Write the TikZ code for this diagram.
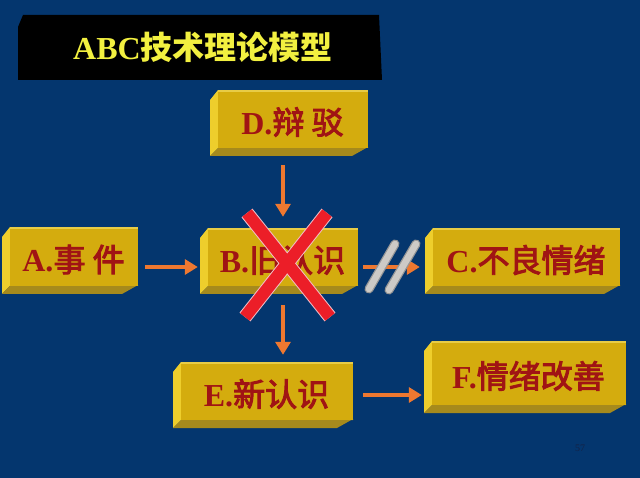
\documentclass[tikz,border=0pt]{standalone}
\usepackage{fontspec}
\setmainfont{Liberation Serif}
\newfontfamily\cjk{Noto Sans CJK SC}
\newfontfamily\cjkm[FakeBold=3]{Noto Sans CJK SC}
\usetikzlibrary{calc,arrows.meta}
\definecolor{bgblue}{RGB}{4,54,110}
\definecolor{facec}{RGB}{212,172,14}
\definecolor{leftc}{RGB}{238,206,44}
\definecolor{botc}{RGB}{166,138,28}
\definecolor{topc}{RGB}{232,204,70}
\definecolor{textred}{RGB}{160,20,20}
\definecolor{arrorange}{RGB}{238,120,48}
\definecolor{xred}{RGB}{236,30,40}
\definecolor{xhalo}{RGB}{240,190,200}
\definecolor{baredge}{RGB}{150,150,150}
\definecolor{barfill}{RGB}{205,202,198}
\definecolor{titleyellow}{RGB}{242,240,64}
\definecolor{pagec}{RGB}{20,34,70}
\tikzset{
  arr/.style={draw=arrorange, line width=4pt, -{Triangle[length=13pt,width=15pt]}},
  blocknode/.style={inner sep=0pt, draw=none, rectangle},
  blocktext/.style={font=\fontsize{32}{36}\selectfont\bfseries, text=textred, inner sep=0pt},
  xstroke/.style={line width=12pt, draw=xred},
  xhalostroke/.style={line width=14pt, draw=xhalo},
  baroutline/.style={line cap=round, line width=9pt, draw=baredge},
  barinner/.style={line cap=round, line width=6.5pt, draw=barfill},
}
\newcommand{\blk}[6]{%
  \fill[leftc] ({#2+8},#3) -- (#2,{#3+10}) -- (#2,#5) -- ({#2+8},{#5-8}) -- cycle;
  \fill[botc] (#2,#5) -- ({#4-16},#5) -- (#4,{#5-9}) -- (#4,{#5-8}) -- ({#2+8},{#5-8}) -- cycle;
  \fill[facec] ({#2+8},#3) rectangle (#4,{#5-8});
  \draw[topc, line width=2pt] ({#2+8},{#3+1}) -- (#4,{#3+1});
  \node[blocknode, minimum width={(#4-#2)*1pt}, minimum height={(#5-#3)*1pt}] (#1) at ({(#2+#4)/2},{(#3+#5)/2}) {};
  \node[blocktext] (#1t) at ($(#1.center)+(3.5,-1)$) {#6};
}
\newcommand{\zh}[1]{{\mdseries\cjkm #1}}
\begin{document}
\begin{tikzpicture}[x=1pt,y=-1pt]
\useasboundingbox (0,0) rectangle (640,478);
\fill[bgblue] (0,0) rectangle (640,478);
% title
\fill[black] (23,15) -- (379,15) -- (382,80) -- (18,80) -- (18,27) -- cycle;
\node[font=\fontsize{32}{36}\selectfont\bfseries, text=titleyellow, inner sep=0pt] (title) at (203,47) {ABC{\cjk 技术理论模型}};
% blocks
\blk{a}{2}{227}{138}{294}{A.\zh{事 件}}
\blk{d}{210}{90}{368}{156}{D.\zh{辩 驳}}
\blk{b}{200}{228}{358}{294}{B.\zh{旧认识}}
\blk{c}{425}{228}{620}{294}{C.\zh{不良情绪}}
\blk{e}{173}{362}{353}{428}{E.\zh{新认识}}
\blk{f}{424}{341}{626}{413}{F.\zh{情绪改善}}
% arrows
\draw[arr] ($(a.east)+(7,6.5)$) -- ($(b.west)+(-2,6)$);
\draw[arr] ($(b.north |- d.south)+(4,9)$) -- ($(b.north)+(4,-11)$);
\draw[arr] ($(b.south)+(4,11)$) -- ($(b.south |- e.north)+(4,-7)$);
\draw[arr] ($(b.east)+(5,6)$) -- ($(c.west)+(-5,6)$);
\draw[arr] ($(e.east)+(10,0)$) -- ($(f.west |- e.east)+(-2,0)$);
% red cross
\draw[xhalostroke] (247,213) -- (330,317);
\draw[xhalostroke] (327,213) -- (245,317);
\draw[xstroke] (247,213) -- (330,317);
\draw[xstroke] (327,213) -- (245,317);
% break bars
\draw[baroutline] (369,289) -- (395,244);
\draw[barinner] (369,289) -- (395,244);
\draw[baroutline] (389,290) -- (416,244);
\draw[barinner] (389,290) -- (416,244);
% page number
\node[font=\fontsize{10}{12}\selectfont, text=pagec, inner sep=0pt] (pg) at (580,448) {57};
\end{tikzpicture}
\end{document}
